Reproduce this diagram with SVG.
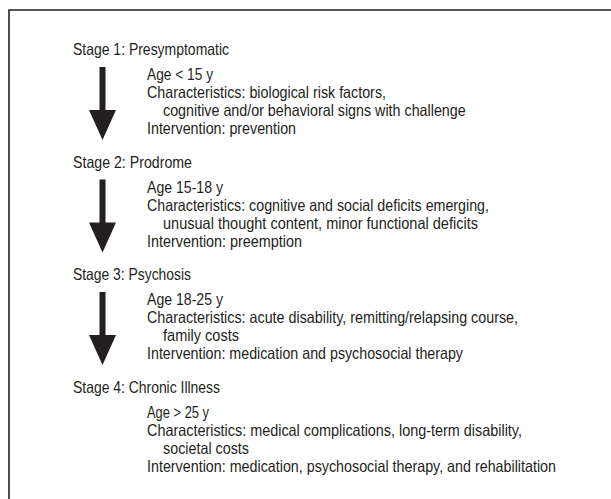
<svg xmlns="http://www.w3.org/2000/svg" xmlns:xlink="http://www.w3.org/1999/xlink" width="611" height="499" viewBox="0 0 611 499">
  <style>
    .t { font-family: "Liberation Sans", Arial, sans-serif; font-size: 16.5px; fill: #231f20; }
    .frame { fill: none; stroke: #231f20; stroke-width: 1.6; }
    .arrow { fill: #231f20; }
  </style>
  <defs>
    <path id="arrow" d="M99.5,67 L105.5,67 L105.5,110 L116,110 L102.5,140 L89,110 L99.5,110 Z"/>
  </defs>
  <rect width="611" height="499" fill="#ffffff"/>
  <path class="frame" d="M9,499 L9,10 L611,10"/>

  <g id="connectors" class="arrow">
    <use xlink:href="#arrow"/>
    <use xlink:href="#arrow" transform="translate(0,112.5)"/>
    <use xlink:href="#arrow" transform="translate(0,225)"/>
  </g>

  <g id="stage1">
    <text class="t" x="73" y="55" textLength="156" lengthAdjust="spacingAndGlyphs">Stage 1: Presymptomatic</text>
    <text class="t" x="147" y="80" textLength="66" lengthAdjust="spacingAndGlyphs">Age &lt; 15 y</text>
    <text class="t" x="147" y="98" textLength="239" lengthAdjust="spacingAndGlyphs">Characteristics: biological risk factors,</text>
    <text class="t" x="163" y="116" textLength="302.7" lengthAdjust="spacingAndGlyphs">cognitive and/or behavioral signs with challenge</text>
    <text class="t" x="147" y="134" textLength="149" lengthAdjust="spacingAndGlyphs">Intervention: prevention</text>
  </g>

  <g id="stage2">
    <text class="t" x="73" y="167.5" textLength="119" lengthAdjust="spacingAndGlyphs">Stage 2: Prodrome</text>
    <text class="t" x="147" y="192.5" textLength="76" lengthAdjust="spacingAndGlyphs">Age 15-18 y</text>
    <text class="t" x="147" y="210.5" textLength="342" lengthAdjust="spacingAndGlyphs">Characteristics: cognitive and social deficits emerging,</text>
    <text class="t" x="163" y="228.5" textLength="315" lengthAdjust="spacingAndGlyphs">unusual thought content, minor functional deficits</text>
    <text class="t" x="147" y="246.5" textLength="155" lengthAdjust="spacingAndGlyphs">Intervention: preemption</text>
  </g>

  <g id="stage3">
    <text class="t" x="73" y="280" textLength="118" lengthAdjust="spacingAndGlyphs">Stage 3: Psychosis</text>
    <text class="t" x="147" y="305" textLength="76" lengthAdjust="spacingAndGlyphs">Age 18-25 y</text>
    <text class="t" x="147" y="323" textLength="371" lengthAdjust="spacingAndGlyphs">Characteristics: acute disability, remitting/relapsing course,</text>
    <text class="t" x="163" y="341" textLength="76" lengthAdjust="spacingAndGlyphs">family costs</text>
    <text class="t" x="147" y="359" textLength="316" lengthAdjust="spacingAndGlyphs">Intervention: medication and psychosocial therapy</text>
  </g>

  <g id="stage4">
    <text class="t" x="73" y="392.5" textLength="147" lengthAdjust="spacingAndGlyphs">Stage 4: Chronic Illness</text>
    <text class="t" x="147" y="417.5" textLength="62" lengthAdjust="spacingAndGlyphs">Age &gt; 25 y</text>
    <text class="t" x="147" y="435.5" textLength="375" lengthAdjust="spacingAndGlyphs">Characteristics: medical complications, long-term disability,</text>
    <text class="t" x="163" y="453.5" textLength="86" lengthAdjust="spacingAndGlyphs">societal costs</text>
    <text class="t" x="147" y="471.5" textLength="409" lengthAdjust="spacingAndGlyphs">Intervention: medication, psychosocial therapy, and rehabilitation</text>
  </g>
</svg>
